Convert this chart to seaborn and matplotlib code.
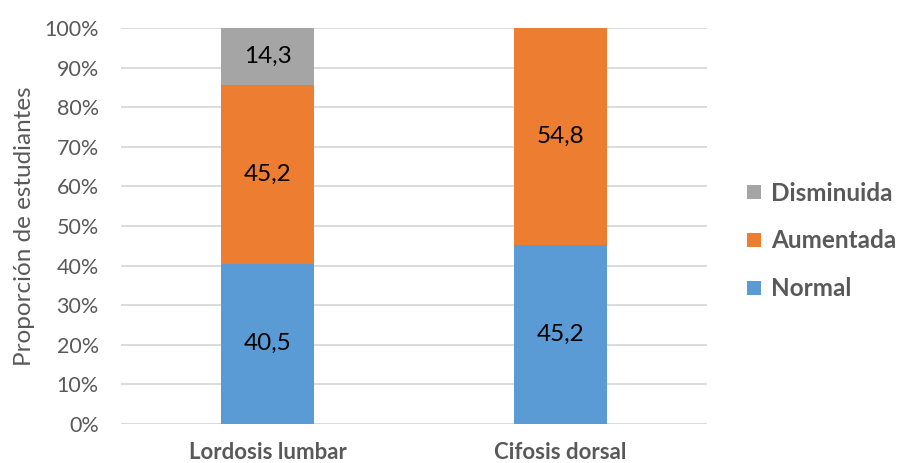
import matplotlib
matplotlib.use("Agg")
import matplotlib.pyplot as plt
from matplotlib.lines import Line2D
import numpy as np
import pandas as pd
import seaborn as sns

categories = ["Lordosis lumbar", "Cifosis dorsal"]
normal = [40.5, 45.2]
aumentada = [45.2, 54.8]
disminuida = [14.3, 0.0]
series_names = ["Normal", "Aumentada", "Disminuida"]
colors = ["#5B9BD5", "#ED7D31", "#A5A5A5"]
yticks = [0, 10, 20, 30, 40, 50, 60, 70, 80, 90, 100]

sns.set_theme(style="white")
plt.rcParams["font.family"] = ["Lato", "DejaVu Sans"]

fig = plt.figure(figsize=(8.99, 4.63), dpi=100)
ax = fig.add_axes([121 / 899, 1 - 424 / 463, (707 - 121) / 899, (424 - 28) / 463])

series = [normal, aumentada, disminuida]
cum = np.cumsum(np.array(series), axis=0)

# draw stacked bars from the top segment down so lower segments overlay
for i in range(len(series) - 1, -1, -1):
    df = pd.DataFrame({"cat": categories, "val": cum[i]})
    sns.barplot(data=df, x="cat", y="val", color=colors[i], width=0.315,
                saturation=1, ax=ax, zorder=2, linewidth=0)

# value labels at the middle of each segment
for i, vals in enumerate(series):
    for j, v in enumerate(vals):
        if v <= 0:
            continue
        mid = cum[i][j] - v / 2
        ax.text(j, mid, f"{v:.1f}".replace(".", ","), ha="center", va="center",
                fontsize=17.5, color="black", zorder=3)

ax.set_xlim(-0.5, 1.5)
ax.set_ylim(0, 100)
ax.set_yticks(yticks)
ax.set_yticklabels([f"{t}%" for t in yticks])
ax.yaxis.grid(True, color="#D9D9D9", linewidth=1.3, zorder=0)
ax.set_axisbelow(True)
for s in ax.spines.values():
    s.set_visible(False)
ax.axhline(0, color="#D9D9D9", linewidth=1.3, zorder=1)

ax.tick_params(axis="y", labelsize=15.5, labelcolor="#595959", length=0, pad=16)
ax.tick_params(axis="x", labelsize=16, labelcolor="#595959", length=0, pad=13)
for lbl in ax.get_xticklabels():
    lbl.set_fontweight("bold")
ax.set_xlabel("")
ax.set_ylabel("Proporción de estudiantes", fontsize=17.5, color="#595959", labelpad=7)

handles = [Line2D([0], [0], marker="s", linestyle="", markersize=10.5,
                  markerfacecolor=colors[i], markeredgewidth=0) for i in (2, 1, 0)]
labels = [series_names[i] for i in (2, 1, 0)]
leg = fig.legend(handles, labels, loc="center left", bbox_to_anchor=(743 / 899, 1 - 241 / 463),
                 frameon=False, fontsize=17.5, labelspacing=1.02, handletextpad=0.25,
                 handlelength=0.9, borderaxespad=0, borderpad=0)
for t in leg.get_texts():
    t.set_fontweight("bold")
    t.set_color("#595959")

fig.savefig("out.png", dpi=100)
